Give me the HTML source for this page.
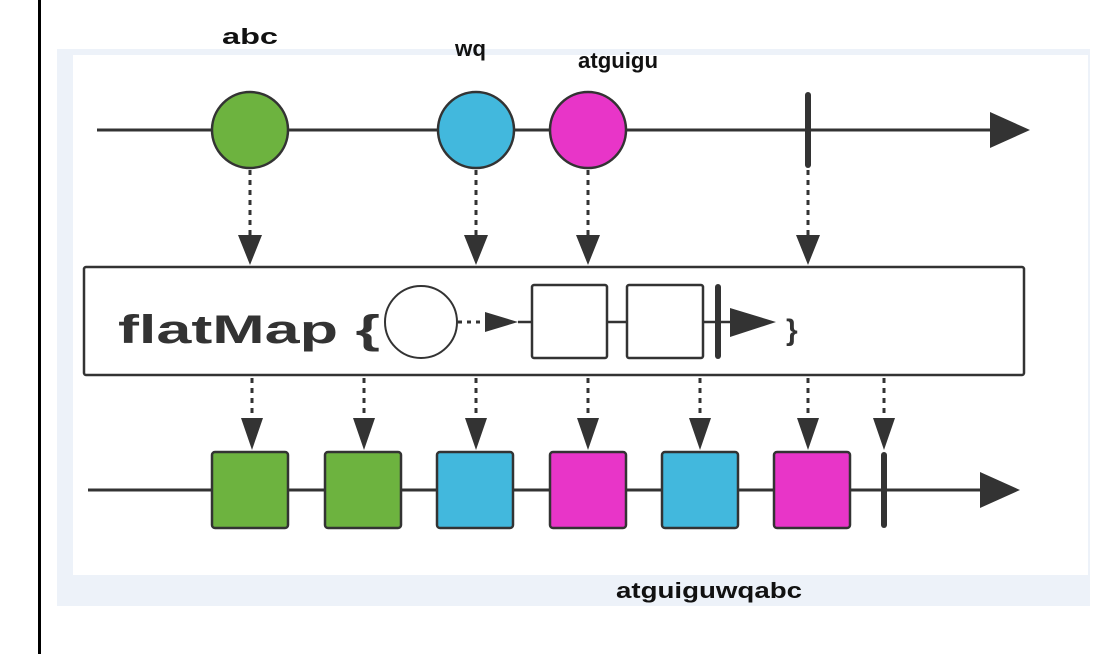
<!DOCTYPE html>
<html><head><style>
html,body{margin:0;padding:0;background:#fff;width:1095px;height:654px;overflow:hidden}
</style></head><body>
<svg width="1095" height="654" xmlns="http://www.w3.org/2000/svg" font-family="Liberation Sans, sans-serif">
<rect x="38" y="0" width="3" height="654" fill="#000"/>
<rect x="57" y="49" width="1033" height="557" fill="#edf2f9"/>
<rect x="73" y="55" width="1015" height="520" fill="#fff"/>
<g fill="#111" font-weight="bold" font-size="22">
<text x="222" y="44" textLength="56" lengthAdjust="spacingAndGlyphs">abc</text>
<text x="455" y="56" textLength="31" lengthAdjust="spacingAndGlyphs">wq</text>
<text x="578" y="68" textLength="80" lengthAdjust="spacingAndGlyphs">atguigu</text>
<text x="616" y="598" textLength="186" lengthAdjust="spacingAndGlyphs">atguiguwqabc</text>
</g>
<g stroke="#333" stroke-width="3">
<line x1="97" y1="130" x2="995" y2="130"/>
<line x1="88" y1="490" x2="985" y2="490"/>
</g>
<polygon points="990,112 1030,130 990,148" fill="#333"/>
<polygon points="980,472 1020,490 980,508" fill="#333"/>
<g stroke="#333" stroke-width="2.5">
<circle cx="250" cy="130" r="38" fill="#6db33f"/>
<circle cx="476" cy="130" r="38" fill="#42b8dd"/>
<circle cx="588" cy="130" r="38" fill="#e835c8"/>
</g>
<rect x="805" y="92" width="6" height="76" rx="3" fill="#333"/>
<g stroke="#333" stroke-width="3" stroke-dasharray="5,5">
<line x1="250" y1="170" x2="250" y2="235"/>
<line x1="476" y1="170" x2="476" y2="235"/>
<line x1="588" y1="170" x2="588" y2="235"/>
<line x1="808" y1="170" x2="808" y2="235"/>
<line x1="252" y1="378" x2="252" y2="418"/>
<line x1="364" y1="378" x2="364" y2="418"/>
<line x1="476" y1="378" x2="476" y2="418"/>
<line x1="588" y1="378" x2="588" y2="418"/>
<line x1="700" y1="378" x2="700" y2="418"/>
<line x1="808" y1="378" x2="808" y2="418"/>
<line x1="884" y1="378" x2="884" y2="418"/>
</g>
<g fill="#333">
<polygon points="238,235 262,235 250,265"/>
<polygon points="464,235 488,235 476,265"/>
<polygon points="576,235 600,235 588,265"/>
<polygon points="796,235 820,235 808,265"/>
<polygon points="241,418 263,418 252,450"/>
<polygon points="353,418 375,418 364,450"/>
<polygon points="465,418 487,418 476,450"/>
<polygon points="577,418 599,418 588,450"/>
<polygon points="689,418 711,418 700,450"/>
<polygon points="797,418 819,418 808,450"/>
<polygon points="873,418 895,418 884,450"/>
</g>
<rect x="84" y="267" width="940" height="108" fill="#fff" stroke="#333" stroke-width="2.5" rx="2"/>
<text x="118" y="343" font-size="40" font-weight="bold" fill="#333" textLength="262" lengthAdjust="spacingAndGlyphs">flatMap {</text>
<circle cx="421" cy="322" r="36" fill="#fff" stroke="#333" stroke-width="2"/>
<line x1="458" y1="322" x2="485" y2="322" stroke="#333" stroke-width="3" stroke-dasharray="4,5"/>
<polygon points="485,312 518,322 485,332" fill="#333"/>
<line x1="518" y1="322" x2="730" y2="322" stroke="#333" stroke-width="2.5"/>
<rect x="532" y="285" width="75" height="73" rx="2" fill="#fff" stroke="#333" stroke-width="2.5"/>
<rect x="627" y="285" width="76" height="73" rx="2" fill="#fff" stroke="#333" stroke-width="2.5"/>
<rect x="715" y="284" width="6" height="75" rx="3" fill="#333"/>
<polygon points="730,308 776,322 730,337" fill="#333"/>
<text x="786" y="340" font-size="30" font-weight="bold" fill="#333">}</text>
<g stroke="#333" stroke-width="2.5">
<rect x="212" y="452" width="76" height="76" rx="3" fill="#6db33f"/>
<rect x="325" y="452" width="76" height="76" rx="3" fill="#6db33f"/>
<rect x="437" y="452" width="76" height="76" rx="3" fill="#42b8dd"/>
<rect x="550" y="452" width="76" height="76" rx="3" fill="#e835c8"/>
<rect x="662" y="452" width="76" height="76" rx="3" fill="#42b8dd"/>
<rect x="774" y="452" width="76" height="76" rx="3" fill="#e835c8"/>
</g>
<rect x="881" y="452" width="6" height="76" rx="3" fill="#333"/>
</svg>
</body></html>
